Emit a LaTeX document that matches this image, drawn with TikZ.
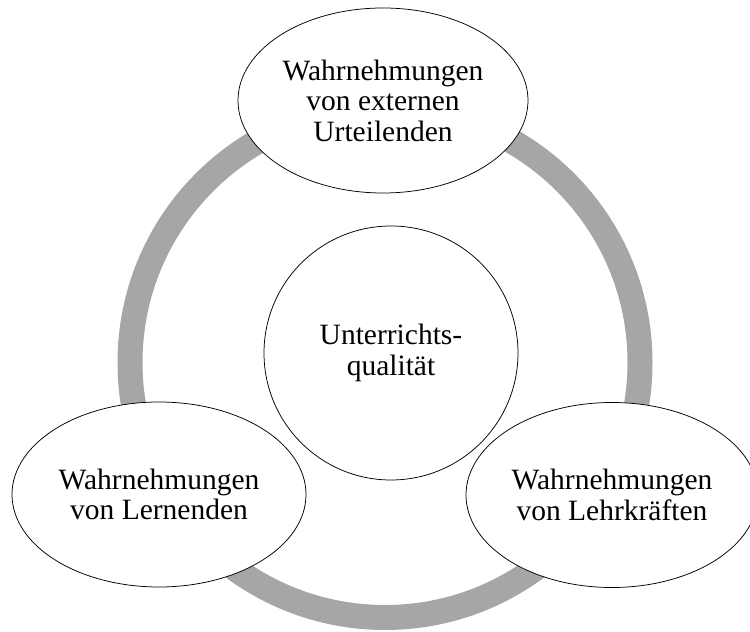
\documentclass[tikz,border=0pt]{standalone}
\usepackage{fontspec}
\setmainfont{Liberation Serif}
\usepackage{tikz}
\usetikzlibrary{shapes.geometric}
\definecolor{ringgray}{RGB}{166,166,166}
\tikzstyle{ring} = [draw=ringgray, line width=25pt]
\tikzstyle{core} = [circle, draw=black, fill=white, line width=0.75pt, text centered,
	align=center, inner sep=0pt, minimum size=254pt]
\tikzstyle{view} = [ellipse, draw=black, fill=white, line width=0.75pt, text centered,
	align=center, inner sep=0pt, minimum width=292pt, minimum height=185pt]

\begin{document}
\begin{tikzpicture}[x=1pt, y=1pt, font=\fontsize{29.5}{30.5}\selectfont]
	\useasboundingbox (0,0) rectangle (750,632);

	% grey ring behind everything
	\draw [ring] (385,269.5) circle (255);

	\node (quality) [core] at (391,279) {Unterrichts-\\qualität};

	\node (external) [view, minimum width=290pt] at (383,531.5) {Wahrnehmungen\\von externen\\Urteilenden};
	\node (learners) [view, minimum width=294pt] at (159,137.5) {Wahrnehmungen\\von Lernenden};
	\node (teachers) [view] at (612,137) {Wahrnehmungen\\von Lehrkräften};

\end{tikzpicture}
\end{document}
